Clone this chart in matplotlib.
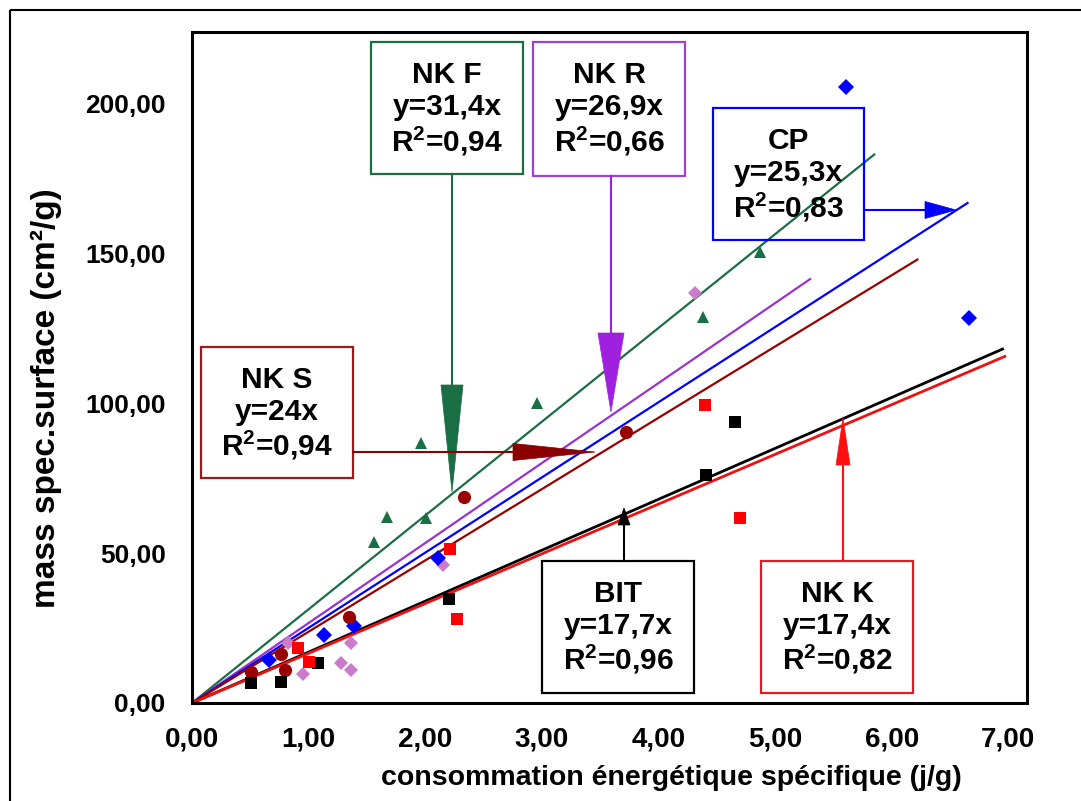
import matplotlib
matplotlib.use("Agg")
import matplotlib.pyplot as plt
from matplotlib.patches import Rectangle, Polygon
from matplotlib.ticker import FixedLocator, FuncFormatter
import numpy as np

# ---------------- data ----------------
series = ["NK F", "NK R", "CP", "NK S", "BIT", "NK K"]
fit_labels = ["y=31,4x", "y=26,9x", "y=25,3x", "y=24x", "y=17,7x", "y=17,4x"]
r2_labels = ["0,94", "0,66", "0,83", "0,94", "0,96", "0,82"]

nkf_x = [1.56, 1.67, 1.96, 2.01, 2.96, 4.38, 4.87]
nkf_y = [53.7, 62.1, 86.8, 61.6, 100.2, 128.7, 150.5]

nkr_x = [0.82, 0.95, 1.28, 1.36, 1.36, 2.15, 4.31]
nkr_y = [20.0, 9.6, 13.2, 19.9, 11.0, 46.2, 136.9]

cp_x = [0.66, 1.13, 1.39, 2.11, 5.61, 6.66]
cp_y = [14.4, 22.8, 25.6, 48.5, 205.6, 128.5]

nks_x = [0.51, 0.76, 0.80, 1.35, 2.33, 3.72]
nks_y = [10.2, 16.3, 11.0, 28.6, 68.8, 90.6]

bit_x = [0.51, 0.76, 1.08, 2.20, 4.41, 4.66]
bit_y = [6.8, 7.1, 13.2, 34.6, 76.0, 93.9]

nkk_x = [0.91, 1.00, 2.21, 2.27, 4.40, 4.70]
nkk_y = [18.5, 13.8, 51.5, 28.2, 99.5, 61.9]

# trend lines as drawn (through origin): slope and where each one stops
line_slope = [31.3, 26.7, 25.1, 23.8, 17.0, 16.6]
line_xmax = [5.85, 5.30, 6.65, 6.22, 6.95, 6.97]

x_ticks = [0, 1, 2, 3, 4, 5, 6, 7]
y_ticks = [0, 50, 100, 150, 200]

# ---------------- styling ----------------
GREEN, PURPLE, ORCHID = "#1a6e44", "#9a32cd", "#cc7acc"
BLUE, DKRED, RED = "#0000ff", "#990000", "#ee1111"
line_colors = [GREEN, PURPLE, BLUE, DKRED, "black", RED]
line_widths = [1.6, 1.6, 1.6, 1.6, 2.0, 2.0]
box_colors = [GREEN, "#a040d0", BLUE, "#a01818", "black", "#e01b24"]

plt.rcParams.update({
    "font.family": "Liberation Sans",
    "font.weight": "bold",
    "mathtext.fontset": "custom",
    "mathtext.rm": "Liberation Sans:bold",
    "mathtext.bf": "Liberation Sans:bold",
})
BOX_FS = 21.5

fig = plt.figure(figsize=(10.81, 8.01), dpi=100, facecolor="white")
ax = fig.add_axes([192 / 1081, 1 - 703 / 801, 835 / 1081, 671 / 801])

for slope, xmax, col, lw in zip(line_slope, line_xmax, line_colors, line_widths):
    ax.plot([0, xmax], [0, slope * xmax], color=col, lw=lw, zorder=2)

mk = dict(linestyle="none", zorder=3, markeredgewidth=0)
ax.plot(nkf_x, nkf_y, marker="^", ms=9, color=GREEN, **mk)
ax.plot(nkr_x, nkr_y, marker="D", ms=7.5, color=ORCHID, **mk)
ax.plot(cp_x, cp_y, marker="D", ms=8.5, color=BLUE, **mk)
ax.plot(nks_x, nks_y, marker="o", ms=9.5, color=DKRED, **mk)
ax.plot(bit_x, bit_y, marker="s", ms=9, color="black", **mk)
ax.plot(nkk_x, nkk_y, marker="s", ms=9, color="#ff0000", **mk)

ax.set_xlim(0, 7.16)
ax.set_ylim(0, 224)
fmt = FuncFormatter(lambda v, p: f"{v:.2f}".replace(".", ","))
ax.xaxis.set_major_locator(FixedLocator(x_ticks))
ax.yaxis.set_major_locator(FixedLocator(y_ticks))
ax.xaxis.set_major_formatter(fmt)
ax.yaxis.set_major_formatter(fmt)
ax.tick_params(axis="both", length=0)
ax.tick_params(axis="y", pad=19, labelsize=19)
ax.tick_params(axis="x", pad=17, labelsize=20)
for s in ax.spines.values():
    s.set_linewidth(2.2)
    s.set_color("black")

ax.set_xlabel("consommation énergétique spécifique (j/g)", fontsize=20.5, fontweight="bold")
ax.set_ylabel("mass spec.surface (cm²/g)", fontsize=24, fontweight="bold")
ax.xaxis.set_label_coords(0.574, -0.112)
ax.xaxis.label.set_va("center")
ax.yaxis.set_label_coords(-0.174, 0.455)
ax.yaxis.label.set_va("center")

# ---------------- overlay in reference pixels: frame, boxes, arrows ----------------
ov = fig.add_axes([0, 0, 1, 1], zorder=5)
ov.set_xlim(0, 1081)
ov.set_ylim(801, 0)
ov.axis("off")
ov.patch.set_visible(False)

ov.add_patch(Rectangle((10, 10), 1200, 1000, fill=False, ec="black", lw=1.5))

boxes = [(371, 42, 523, 174), (533, 42, 685, 176), (713, 108, 864, 240),
         (201, 347, 353, 478), (542, 561, 694, 693), (761, 561, 913, 693)]
for (x0, y0, x1, y1), name, eq, r2, col in zip(boxes, series, fit_labels, r2_labels, box_colors):
    ov.add_patch(Rectangle((x0, y0), x1 - x0, y1 - y0, fill=False, ec=col, lw=1.6))
    cx = (x0 + x1) / 2
    ov.text(cx, y0 + 41, name, fontsize=BOX_FS, ha="center", va="baseline")
    ov.text(cx, y0 + 73, eq, fontsize=BOX_FS, ha="center", va="baseline")
    ov.text(cx, y0 + 109, "R$^{2}$=" + r2, fontsize=BOX_FS, ha="center", va="baseline")


def arrow(x0, y0, x1, y1, hl, hw, col):
    d = np.array([x1 - x0, y1 - y0], float)
    u = d / np.hypot(*d)
    b = np.array([x1, y1]) - u * hl
    n = np.array([-u[1], u[0]])
    ov.plot([x0, b[0]], [y0, b[1]], color=col, lw=1.5)
    ov.add_patch(Polygon([b + n * hw, b - n * hw, (x1, y1)], closed=True,
                         fc=col, ec=col, lw=0.5))


arrow(452, 174, 452, 492, 107, 11, GREEN)
arrow(611, 176, 611, 412, 79, 13, "#a020e0")
arrow(864, 210, 956, 210, 31, 8.5, BLUE)
arrow(353, 452, 595, 452, 82, 8.5, "#8b0000")
arrow(624, 561, 624, 508, 17, 6, "black")
arrow(843, 561, 843, 418, 47, 7, "#ff1010")

fig.savefig("out.png", dpi=100, facecolor="white")
